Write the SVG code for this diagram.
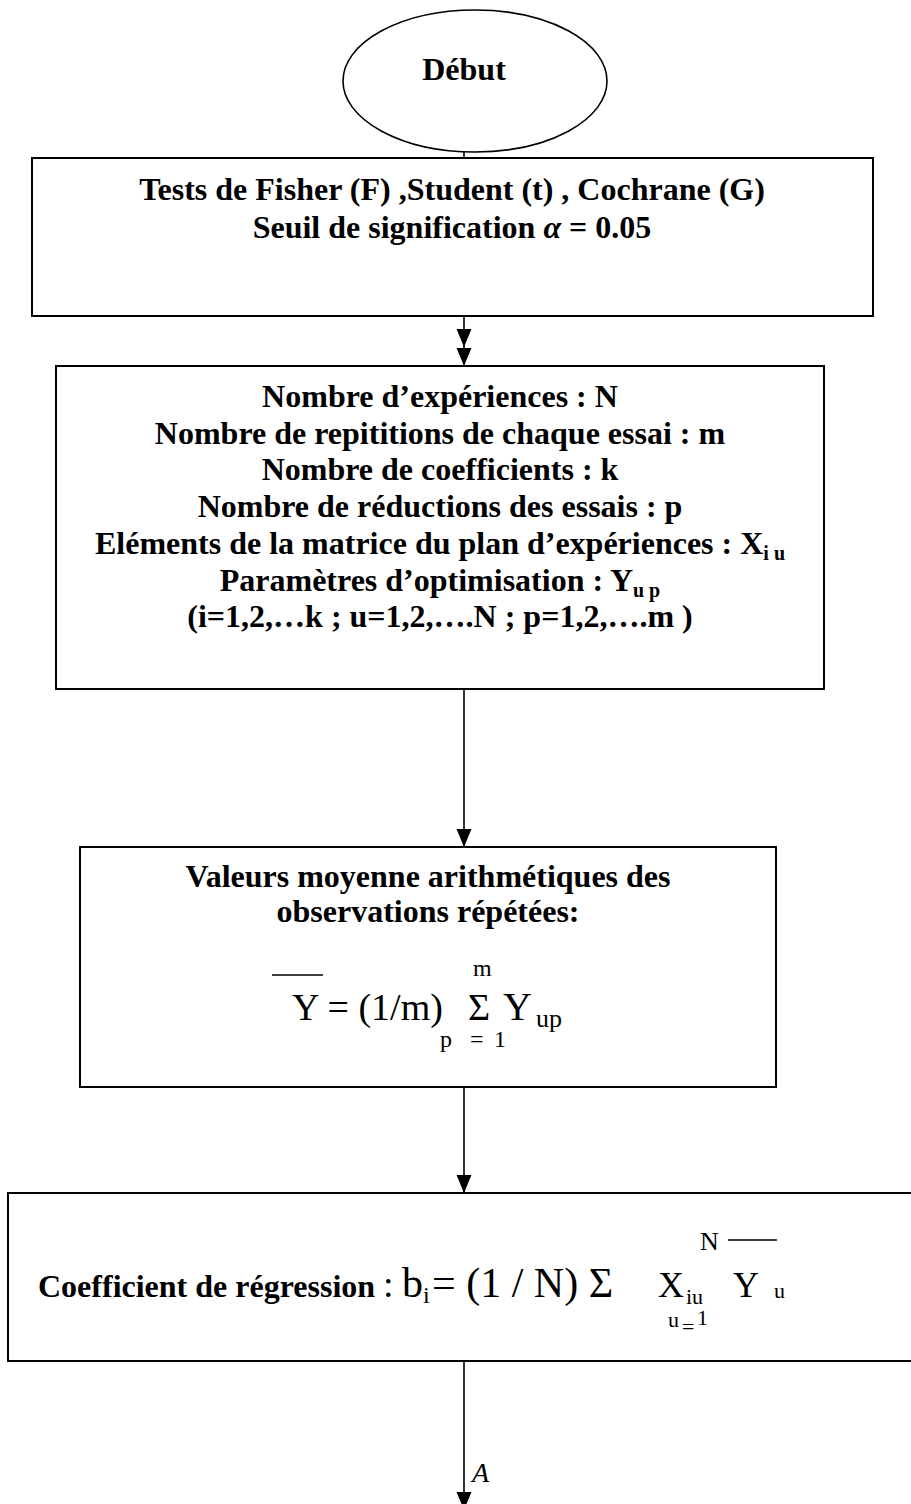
<svg xmlns="http://www.w3.org/2000/svg" width="911" height="1504" viewBox="0 0 911 1504">
<style>
.box{fill:#fff;stroke:#000;stroke-width:2}
.b{font-family:"Liberation Serif","Times New Roman",serif;font-weight:bold;font-size:32px;fill:#000;text-anchor:middle}
.r{font-family:"Liberation Serif","Times New Roman",serif;font-weight:normal;fill:#000}
.con{stroke:#000;stroke-width:1.6;fill:none}
</style>
<defs>
<marker id="ah" markerUnits="userSpaceOnUse" markerWidth="18" markerHeight="16" viewBox="0 0 18 16" refX="18" refY="7.5" orient="auto">
<path d="M0,0 L18,7.5 L0,15 z" fill="#000"/>
</marker>
</defs>
<rect width="911" height="1504" fill="#fff"/>

<g id="connectors">
<line class="con" x1="464" y1="150" x2="464" y2="158"/>
<path class="con" d="M464,316 L464,347 L464,366" marker-mid="url(#ah)" marker-end="url(#ah)"/>
<path class="con" d="M464,689 L464,847" marker-end="url(#ah)"/>
<path class="con" d="M464,1087 L464,1193" marker-end="url(#ah)"/>
<path class="con" d="M464,1361 L464,1510" marker-end="url(#ah)"/>
<text class="r" x="472" y="1482" font-size="28" font-style="italic">A</text>
</g>

<g id="debut">
<ellipse cx="475" cy="81" rx="132" ry="71" fill="#fff" stroke="#000" stroke-width="1.6"/>
<text class="b" x="464" y="80">Début</text>
</g>

<g id="tests">
<rect class="box" x="32" y="158" width="841" height="158"/>
<text class="b" x="452" y="200">Tests de Fisher (F) ,Student (t) , Cochrane (G)</text>
<text class="b" x="452" y="238">Seuil de signification <tspan font-style="italic">α</tspan> = 0.05</text>
</g>

<g id="donnees">
<rect class="box" x="56" y="366" width="768" height="323"/>
<text class="b" x="440" y="407">Nombre d’expériences : N</text>
<text class="b" x="440" y="444">Nombre de repititions de chaque essai : m</text>
<text class="b" x="440" y="480">Nombre de coefficients : k</text>
<text class="b" x="440" y="517">Nombre de réductions des essais : p</text>
<text class="b" x="440" y="554">Eléments de la matrice du plan d’expériences : X<tspan font-size="20" dy="6">i u</tspan></text>
<text class="b" x="440" y="591">Paramètres d’optimisation : Y<tspan font-size="20" dy="6">u p</tspan></text>
<text class="b" x="440" y="627">(i=1,2,…k ; u=1,2,….N ; p=1,2,….m )</text>
</g>

<g id="moyenne">
<rect class="box" x="80" y="847" width="696" height="240"/>
<text class="b" x="428" y="887">Valeurs moyenne arithmétiques des</text>
<text class="b" x="428" y="922">observations répétées:</text>
<line x1="272" y1="975" x2="323" y2="975" stroke="#000" stroke-width="1.6"/>
<text class="r" x="292" y="1020" font-size="38">Y = (1/m)</text>
<text class="r" x="473" y="976" font-size="24">m</text>
<text class="r" x="468" y="1020" font-size="38">Σ</text>
<text class="r" x="503" y="1020" font-size="40">Y</text>
<text class="r" x="536" y="1027" font-size="26">up</text>
<text class="r" font-size="24" y="1047"><tspan x="440">p </tspan><tspan x="470">=</tspan><tspan x="494">1</tspan></text>
</g>

<g id="coefficient">
<rect class="box" x="8" y="1193" width="912" height="168"/>
<text class="b" x="38" y="1297" style="text-anchor:start">Coefficient de régression</text>
<text class="r" x="383" y="1297" font-size="38">:</text>
<text class="r" x="402" y="1297" font-size="42">b</text>
<text class="r" x="423" y="1303" font-size="24">i</text>
<text class="r" x="432" y="1297" font-size="42">= (1 / N) Σ</text>
<text class="r" x="658" y="1297" font-size="36">X</text>
<text class="r" x="686" y="1304" font-size="22">iu</text>
<text class="r" x="733" y="1297" font-size="36">Y</text>
<text class="r" x="774" y="1298" font-size="22">u</text>
<text class="r" x="700" y="1250" font-size="26">N</text>
<line x1="728" y1="1240" x2="777" y2="1240" stroke="#000" stroke-width="1.6"/>
<text class="r" x="668" y="1327" font-size="22">u</text>
<text class="r" x="682" y="1334" font-size="22">=</text>
<text class="r" x="697" y="1325" font-size="22">1</text>
</g>
</svg>
